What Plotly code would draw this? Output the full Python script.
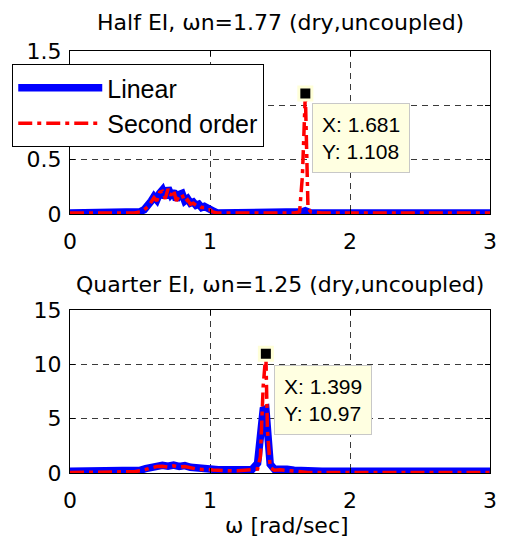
import plotly.graph_objects as go

# ---------------- data ----------------
x_half = [0.00, 0.10, 0.20, 0.30, 0.40, 0.46, 0.50, 0.53, 0.56, 0.58, 0.60, 0.62, 0.64, 0.66, 0.68,
          0.70, 0.72, 0.74, 0.76, 0.78, 0.80, 0.82, 0.84, 0.86, 0.88, 0.90, 0.92, 0.94, 0.96, 0.98,
          1.00, 1.02, 1.05, 1.10, 1.20, 1.30, 1.40, 1.50, 1.60, 1.64, 1.66, 1.681, 1.70, 1.72, 1.80,
          1.90, 2.00, 2.20, 2.40, 2.60, 2.80, 3.00]
linear_half = [0.01, 0.01, 0.01, 0.01, 0.01, 0.01, 0.02, 0.04, 0.08, 0.12, 0.16, 0.13, 0.19, 0.22, 0.15,
               0.24, 0.18, 0.21, 0.13, 0.18, 0.19, 0.12, 0.14, 0.10, 0.11, 0.08, 0.09, 0.06, 0.07, 0.05,
               0.05, 0.03, 0.01, 0.01, 0.01, 0.01, 0.01, 0.01, 0.01, 0.01, 0.02, 0.03, 0.02, 0.01, 0.01,
               0.01, 0.01, 0.01, 0.01, 0.01, 0.01, 0.01]
second_half = [0.01, 0.01, 0.01, 0.01, 0.01, 0.01, 0.02, 0.04, 0.07, 0.11, 0.15, 0.12, 0.20, 0.21, 0.14,
               0.23, 0.17, 0.22, 0.12, 0.17, 0.18, 0.11, 0.13, 0.09, 0.10, 0.08, 0.08, 0.06, 0.06, 0.04,
               0.04, 0.02, 0.01, 0.01, 0.01, 0.01, 0.01, 0.01, 0.01, 0.02, 0.35, 1.108, 0.05, 0.02, 0.01,
               0.01, 0.01, 0.01, 0.01, 0.01, 0.01, 0.01]

x_quarter = [0.00, 0.10, 0.20, 0.30, 0.40, 0.46, 0.50, 0.54, 0.58, 0.62, 0.66, 0.70, 0.74, 0.78, 0.82,
             0.86, 0.90, 0.94, 0.98, 1.02, 1.06, 1.10, 1.20, 1.30, 1.34, 1.36, 1.38, 1.399, 1.41, 1.43,
             1.46, 1.50, 1.55, 1.60, 1.70, 1.80, 2.00, 2.20, 2.40, 2.60, 2.80, 3.00]
linear_quarter = [0.15, 0.15, 0.15, 0.15, 0.15, 0.18, 0.25, 0.40, 0.55, 0.65, 0.70, 0.62, 0.72, 0.60, 0.68,
                  0.52, 0.45, 0.40, 0.42, 0.35, 0.30, 0.30, 0.30, 0.32, 0.90, 3.50, 5.80, 5.90, 3.00, 0.80,
                  0.35, 0.40, 0.35, 0.25, 0.15, 0.15, 0.15, 0.15, 0.15, 0.15, 0.15, 0.15]
second_quarter = [0.05, 0.05, 0.05, 0.05, 0.08, 0.12, 0.20, 0.35, 0.50, 0.60, 0.62, 0.55, 0.66, 0.55, 0.60,
                  0.45, 0.38, 0.32, 0.35, 0.28, 0.22, 0.22, 0.20, 0.25, 0.35, 1.50, 8.00, 10.97, 4.00, 0.50,
                  0.25, 0.30, 0.25, 0.15, 0.05, 0.05, 0.05, 0.05, 0.05, 0.05, 0.05, 0.05]

tip_x = [1.681, 1.399]
tip_y = [1.108, 10.97]

titles = ["Half EI, \u03c9n=1.77 (dry,uncoupled)", "Quarter EI, \u03c9n=1.25 (dry,uncoupled)"]
x_ticks = [0, 1, 2, 3]
y_ticks_half = [0, 0.5, 1, 1.5]
y_tick_text_half = ["0", "0.5", "1", "1.5"]
y_ticks_quarter = [0, 5, 10, 15]
series_names = ["Linear", "Second order"]

# ---------------- figure ----------------
FONT = "Liberation Sans, Arial, sans-serif"
WIDE = "DejaVu Sans, Verdana, sans-serif"
BLUE = "#0000FF"
RED = "#FF0000"
RED_DASH = "14px,5px,4px,5px"

fig = go.Figure()

fig.add_trace(go.Scatter(x=x_half, y=linear_half, mode="lines", name=series_names[0],
                         line=dict(color=BLUE, width=7.5), xaxis="x", yaxis="y", legendgroup="lin"))
fig.add_trace(go.Scatter(x=x_half, y=second_half, mode="lines", name=series_names[1],
                         line=dict(color=RED, width=3.5, dash=RED_DASH), xaxis="x", yaxis="y",
                         legendgroup="sec"))
fig.add_trace(go.Scatter(x=x_quarter, y=linear_quarter, mode="lines", name=series_names[0],
                         line=dict(color=BLUE, width=7.5), xaxis="x2", yaxis="y2", showlegend=False,
                         legendgroup="lin"))
fig.add_trace(go.Scatter(x=x_quarter, y=second_quarter, mode="lines", name=series_names[1],
                         line=dict(color=RED, width=3.5, dash=RED_DASH), xaxis="x2", yaxis="y2",
                         showlegend=False, legendgroup="sec"))

for i, (xa, ya) in enumerate([("x", "y"), ("x2", "y2")]):
    fig.add_trace(go.Scatter(x=[tip_x[i]], y=[tip_y[i]], mode="markers", showlegend=False,
                             marker=dict(symbol="square", size=13, color="black",
                                         line=dict(color="#FFFFD8", width=3)),
                             xaxis=xa, yaxis=ya, cliponaxis=False))

axis_common = dict(
    showline=True, linecolor="black", linewidth=1, mirror="ticks",
    ticks="inside", ticklen=5, tickcolor="black", tickwidth=1,
    showgrid=True, gridcolor="#3a3a3a", gridwidth=1, griddash="6px,5px",
    zeroline=False, tickfont=dict(family=WIDE, size=22, color="black"),
)

fig.update_layout(
    width=509, height=546,
    margin=dict(l=68, r=12, t=51, b=73, pad=0),
    paper_bgcolor="white", plot_bgcolor="white",
    font=dict(family=FONT, color="black"),
    xaxis=dict(domain=[0, 1], anchor="y", range=[0, 3], tickvals=x_ticks, ticklabelstandoff=8,
               **axis_common),
    yaxis=dict(domain=[0.6137, 1], anchor="x", range=[0, 1.5], tickvals=y_ticks_half,
               ticktext=y_tick_text_half, ticklabelstandoff=3, **axis_common),
    xaxis2=dict(domain=[0, 1], anchor="y2", range=[0, 3], tickvals=x_ticks, ticklabelstandoff=8,
                **axis_common),
    yaxis2=dict(domain=[0, 0.3863], anchor="x2", range=[0, 15], tickvals=y_ticks_quarter,
                ticklabelstandoff=3, **axis_common),
    legend=dict(x=-0.1375, y=0.969, xanchor="left", yanchor="top",
                bgcolor="white", bordercolor="black", borderwidth=1,
                font=dict(family=FONT, size=25, color="black"),
                itemwidth=84, tracegroupgap=0),
    showlegend=True,
)

fig.add_annotation(text=titles[0], xref="paper", yref="paper", x=0.5, y=1.0687,
                   xanchor="center", yanchor="middle", showarrow=False,
                   font=dict(family=WIDE, size=22, color="black"))
fig.add_annotation(text=titles[1], xref="paper", yref="paper", x=0.5, y=0.4455,
                   xanchor="center", yanchor="middle", showarrow=False,
                   font=dict(family=WIDE, size=22, color="black"))
fig.add_annotation(text="\u03c9 [rad/sec]", xref="paper", yref="paper", x=0.517, y=-0.124,
                   xanchor="center", yanchor="middle", showarrow=False,
                   font=dict(family=WIDE, size=22, color="black"))

tip_box_pos = [("x", "y", 1.727, 1.021), ("x2", "y2", 1.455, 9.94)]
for i, (xa, ya, bx, by) in enumerate(tip_box_pos):
    fig.add_annotation(text=f"X: {tip_x[i]}<br>Y: {tip_y[i]}", xref=xa, yref=ya, x=bx, y=by,
                       xanchor="left", yanchor="top", align="left", showarrow=False,
                       bgcolor="#FFFFE1", bordercolor="#C8C8C8", borderwidth=1, borderpad=9,
                       font=dict(family=FONT, size=21, color="black"))

fig.write_html("out.html", config={"displayModeBar": False},
               post_script="document.body.style.margin='0';document.body.style.overflow='hidden';")
